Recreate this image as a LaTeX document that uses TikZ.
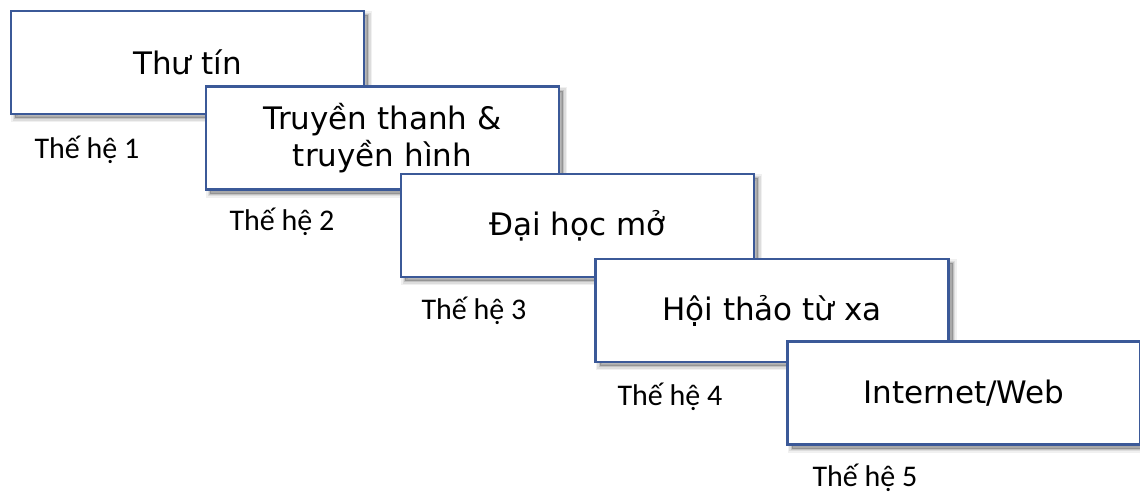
\documentclass[tikz,border=0pt]{standalone}
\usepackage{fontspec}
\setmainfont{DejaVu Sans}
\newfontfamily\labfont{Carlito}
\usetikzlibrary{shadows}
\definecolor{boxblue}{RGB}{59,89,152}
\tikzset{
  softshadow/.style={
    general shadow={shadow xshift=4pt, shadow yshift=-4pt, fill=black, draw=black, line width=8pt, opacity=0.06},
    general shadow={shadow xshift=4pt, shadow yshift=-4pt, fill=black, draw=black, line width=5pt, opacity=0.08},
    general shadow={shadow xshift=4pt, shadow yshift=-4pt, fill=black, draw=black, line width=2pt, opacity=0.12}},
  box/.style={draw=boxblue, line width=2.8pt, fill=white, minimum width=353pt, minimum height=103pt,
    inner sep=0pt, align=center, font=\fontsize{31}{37}\selectfont, softshadow},
  gen/.style={font=\labfont\fontsize{30}{36}\selectfont, inner sep=0pt}
}
\begin{document}
\begin{tikzpicture}[x=1pt,y=-1pt]
\useasboundingbox (0,0) rectangle (1140,493);
\node[box] (b1) at (187.5,62.5) {Thư tín};
\node[gen] (g1) at (87,150) {Thế hệ 1};
\node[box] (b2) at (382.5,138) {\raisebox{-2pt}{\shortstack{Truyền thanh \&\\[2pt]truyền hình}}};
\node[gen] (g2) at (282,222) {Thế hệ 2};
\node[box] (b3) at (577.5,225.5) {Đại học mở};
\node[gen] (g3) at (474,311) {Thế hệ 3};
\node[box] (b4) at (772,310.5) {Hội thảo từ xa};
\node[gen] (g4) at (670,397) {Thế hệ 4};
\node[box] (b5) at (964,393) {Internet/Web};
\node[gen] (g5) at (865,478) {Thế hệ 5};
\end{tikzpicture}
\end{document}
